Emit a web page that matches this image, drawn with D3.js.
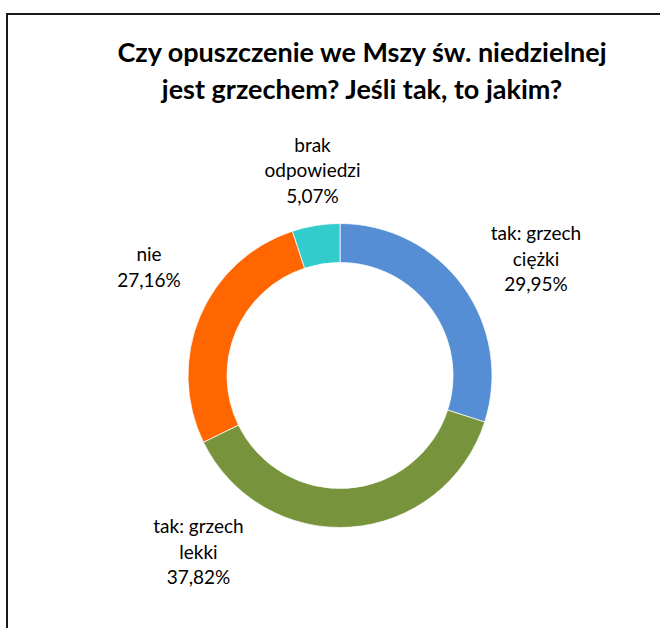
<!DOCTYPE html>
<html>
<head>
<meta charset="utf-8">
<script src="https://cdn.jsdelivr.net/npm/d3@7"></script>
<style>
  html, body { margin: 0; padding: 0; background: #fff; }
  svg { display: block; }
</style>
</head>
<body>
<svg id="chart" width="660" height="628"></svg>
<script>
const titleLines = ["Czy opuszczenie we Mszy św. niedzielnej", "jest grzechem? Jeśli tak, to jakim?"];
const categories = ["tak: grzech ciężki", "tak: grzech lekki", "nie", "brak odpowiedzi"];
const values = [29.95, 37.82, 27.16, 5.07];
const labelLines = [["tak: grzech", "ciężki"], ["tak: grzech", "lekki"], ["nie"], ["brak", "odpowiedzi"]];
const colors = ["#558ED5", "#77933C", "#FF6600", "#33CCCC"];

const svg = d3.select("#chart");
const W = 660, H = 628;

// frame
svg.append("rect")
  .attr("x", 7).attr("y", 14)
  .attr("width", 720).attr("height", 700)
  .attr("fill", "none").attr("stroke", "#1a1a1a").attr("stroke-width", 2);

// title
const title = svg.append("text")
  .attr("text-anchor", "middle")
  .attr("font-family", "Lato, 'Open Sans', sans-serif")
  .attr("font-weight", "bold")
  .attr("font-size", 27)
  .attr("fill", "#000");
titleLines.forEach((t, i) => {
  title.append("tspan").attr("x", 362).attr("y", 62 + i * 37).text(t);
});

const cx = 340, cy = 375.5, rOuter = 152, rInner = 113;
const data = categories.map((c, i) => ({ name: c, value: values[i], lines: labelLines[i], color: colors[i] }));

const pie = d3.pie().value(d => d.value).sort(null);
const arc = d3.arc().innerRadius(rInner).outerRadius(rOuter);
const arcs = pie(data);

const g = svg.append("g").attr("transform", `translate(${cx},${cy})`);
g.selectAll("path").data(arcs).join("path")
  .attr("d", arc)
  .attr("fill", d => d.data.color)
  .attr("stroke", "#fff")
  .attr("stroke-width", 0.75);

// label anchor positions (center x, first baseline y) relative to chart
const labelPos = [[536, 240], [198.5, 533], [149, 261], [312.5, 151.5]];
const fmt = v => v.toFixed(2).replace(".", ",") + "%";

arcs.forEach((a, i) => {
  const lines = a.data.lines.concat([fmt(a.data.value)]);
  const t = svg.append("text")
    .attr("text-anchor", "middle")
    .attr("font-family", "Lato, 'Open Sans', sans-serif")
    .attr("font-size", 19)
    .attr("fill", "#000");
  lines.forEach((ln, j) => {
    t.append("tspan").attr("x", labelPos[i][0]).attr("y", labelPos[i][1] + j * 25.7).text(ln);
  });
});
</script>
</body>
</html>
